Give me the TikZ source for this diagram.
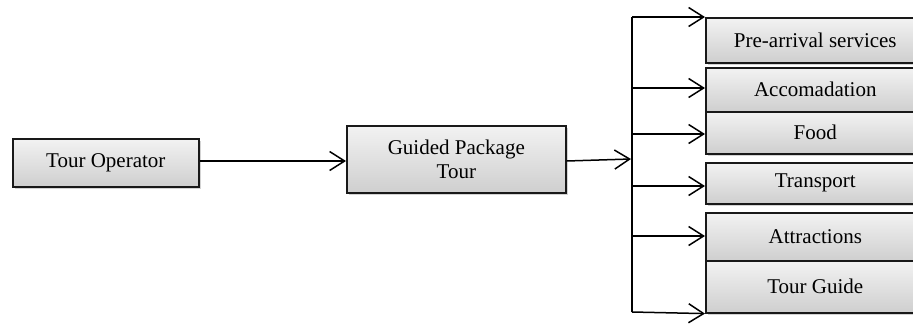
\documentclass[tikz,border=0pt]{standalone}
\usepackage{fontspec}
\setmainfont{Liberation Serif}
\usetikzlibrary{arrows.meta,shadows,positioning}
\begin{document}
\begin{tikzpicture}[x=1pt,y=-1pt,
  box/.style={draw=black!90, line width=1.6pt, top color=gray!10, bottom color=gray!38,
    drop shadow={shadow xshift=2.5pt, shadow yshift=-2.5pt, opacity=0.35},
    anchor=north west, inner sep=0pt, align=center,
    font=\fontsize{21}{24}\selectfont},
  conn/.style={line width=1.5pt, black},
  arr/.style={conn, -{Straight Barb[length=15pt,width=19pt,line width=1.5pt]}}]
\useasboundingbox (0,0) rectangle (913,325);
\clip (0,0) rectangle (913,325);
\node[box, minimum width=186pt, minimum height=48pt] (op) at (12,138) {Tour Operator};
\node[box, minimum width=219pt, minimum height=67pt] (gpt) at (346,125) {Guided Package\\Tour};
\node[box, minimum width=219pt, minimum height=45pt] (b1) at (705,17) {Pre-arrival services};
\node[box, minimum width=219pt, minimum height=44pt] (b2) at (705,67) {Accomadation};
\node[box, minimum width=219pt, minimum height=42pt] (b3) at (705,111) {Food};
\node[box, minimum width=219pt, minimum height=41pt] (b4) at (705,162) {Transport};
\node[box, minimum width=219pt, minimum height=48pt] (b5) at (705,212) {Attractions};
\node[box, minimum width=219pt, minimum height=52pt] (b6) at (705,260) {Tour Guide};
\coordinate (bt) at (632,17);
\coordinate (bb) at (632,312);
\coordinate (bin) at (631,159);
\draw[arr] (op.east |- 0,161) -- (gpt.west |- 0,161);
\draw[arr] (gpt.east |- 0,161) -- (bin);
\draw[conn] (bt) -- (bb);
\draw[arr] (bt) -- (b1.north west);
\draw[arr] (632,88) -- (b2.west |- 0,88);
\draw[arr] (632,134) -- (b3.west |- 0,134);
\draw[arr] (632,186) -- (b4.west |- 0,186);
\draw[arr] (632,236) -- (b5.west |- 0,236);
\draw[arr] (bb) -- (b6.south west);
\end{tikzpicture}
\end{document}
